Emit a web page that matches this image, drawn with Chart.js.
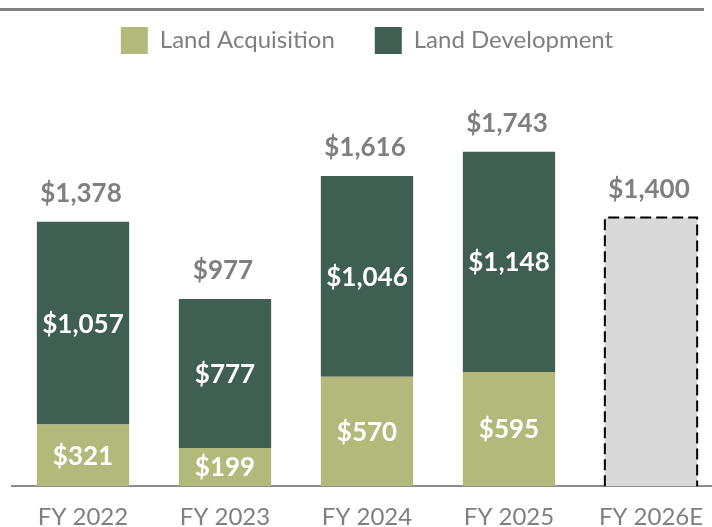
<!DOCTYPE html>
<html>
<head>
<meta charset="utf-8">
<script src="https://cdn.jsdelivr.net/npm/chart.js@4.4.1/dist/chart.umd.min.js"></script>
<style>
  html, body { margin: 0; padding: 0; background: #fff; overflow: hidden; }
  #wrap { position: absolute; left: 0; top: 0; width: 722px; height: 527px; }
</style>
</head>
<body>
<div id="wrap"><canvas id="chart"></canvas></div>
<script>
const categories  = ['FY 2022', 'FY 2023', 'FY 2024', 'FY 2025', 'FY 2026E'];
const acquisition = [321, 199, 570, 595, null];
const development = [1057, 777, 1046, 1148, null];
const estimate    = [null, null, null, null, 1400];
const totals      = [1378, 977, 1616, 1743, 1400];

const GREY = '#7f7f7f';
const FONT = 'Lato';

const fmt = v => '$' + v.toLocaleString('en-US');

// top rule + labels + dashed outline for the estimate bar
const decorations = {
  id: 'decorations',
  beforeDraw(chart) {
    const c = chart.ctx;
    c.save();
    c.fillStyle = '#808080';
    c.fillRect(0, 8, 704, 3);
    c.restore();
  },
  afterDatasetsDraw(chart) {
    const c = chart.ctx;
    const { x, y } = chart.scales;
    c.save();
    c.textAlign = 'center';
    c.textBaseline = 'middle';

    // values inside the stacked segments
    c.fillStyle = '#fff';
    c.font = `bold 26px ${FONT}`;
    [0, 1].forEach(di => {
      chart.getDatasetMeta(di).data.forEach((bar, i) => {
        const v = chart.data.datasets[di].data[i];
        if (v == null) return;
        c.fillText(fmt(v), bar.x, (bar.y + bar.base) / 2 + 1);
      });
    });

    // dashed outline round the estimate bar
    const est = chart.getDatasetMeta(2).data[4];
    if (est) {
      c.setLineDash([11, 5]);
      c.lineWidth = 2;
      c.strokeStyle = '#000';
      const l = est.x - est.width / 2, r = est.x + est.width / 2;
      c.beginPath();
      c.moveTo(l, est.base);
      c.lineTo(l, est.y);
      c.lineTo(r, est.y);
      c.lineTo(r, est.base);
      c.stroke();
      c.setLineDash([]);
    }

    // totals above the bars
    c.fillStyle = GREY;
    c.font = `bold 26px ${FONT}`;
    totals.forEach((t, i) => {
      c.fillText(fmt(t), x.getPixelForValue(i) - 2, y.getPixelForValue(t) - 28);
    });
    c.restore();
  }
};

new Chart(document.getElementById('chart'), {
  type: 'bar',
  data: {
    labels: categories,
    datasets: [
      { label: 'Land Acquisition', data: acquisition, backgroundColor: '#b3b87b' },
      { label: 'Land Development', data: development, backgroundColor: '#3f5f52' },
      { label: 'Estimate', data: estimate, backgroundColor: '#d9d9d9' }
    ]
  },
  options: {
    responsive: true,
    maintainAspectRatio: false,
    animation: false,
    datasets: {
      bar: { categoryPercentage: 1, barPercentage: 0.65, borderWidth: 0 }
    },
    layout: { padding: { left: 12, right: 0, top: -13, bottom: -22 } },
    plugins: {
      legend: {
        position: 'top',
        labels: {
          filter: item => item.datasetIndex < 2,
          boxWidth: 27,
          boxHeight: 27,
          padding: 40,
          color: GREY,
          font: { family: FONT, size: 24 }
        }
      },
      tooltip: { enabled: false }
    },
    scales: {
      x: {
        stacked: true,
        grid: { display: false, drawTicks: false },
        border: { display: true, color: '#8c8c8c', width: 2 },
        ticks: { color: GREY, padding: 17, font: { family: FONT, size: 24 } }
      },
      y: {
        stacked: true,
        display: false,
        min: 0,
        max: 2200
      }
    }
  },
  plugins: [decorations]
});
</script>
</body>
</html>
